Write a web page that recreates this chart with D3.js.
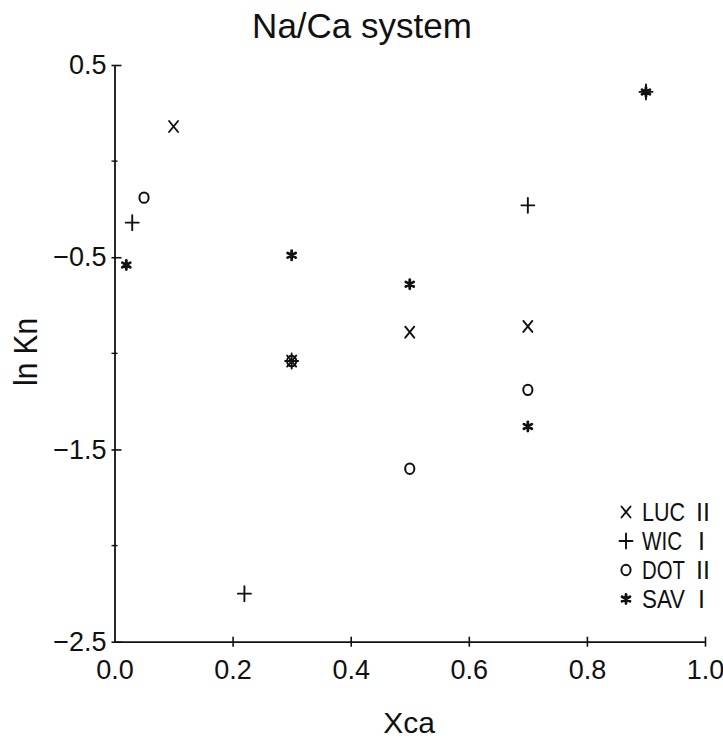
<!DOCTYPE html>
<html>
<head>
<meta charset="utf-8">
<script src="https://cdn.jsdelivr.net/npm/d3@7"></script>
<style>
  html, body { margin: 0; padding: 0; background: #fff; }
  svg { display: block; }
  text { font-family: "Liberation Sans", Arial, sans-serif; fill: #111; }
</style>
</head>
<body>
<svg id="chart" width="723" height="740"></svg>
<script>
// Axis ticks
const xTicks = [0.0, 0.2, 0.4, 0.6, 0.8, 1.0];
const xTickLabels = ["0.0", "0.2", "0.4", "0.6", "0.8", "1.0"];
const yMajorTicks = [0.5, -0.5, -1.5, -2.5];
const yTickLabels = ["0.5", "\u22120.5", "\u22121.5", "\u22122.5"];
const yMinorTicks = [0, -1, -2];

// Series: Xca vs ln Kn for each soil
const lucX = [0.1, 0.3, 0.5, 0.7];
const lucY = [0.18, -1.04, -0.89, -0.86];
const wicX = [0.03, 0.22, 0.3, 0.7, 0.9];
const wicY = [-0.32, -2.25, -1.04, -0.23, 0.36];
const dotX = [0.05, 0.3, 0.5, 0.7];
const dotY = [-0.19, -1.04, -1.6, -1.19];
const savX = [0.02, 0.3, 0.5, 0.7, 0.9];
const savY = [-0.54, -0.49, -0.64, -1.38, 0.36];

const seriesNames = ["LUC", "WIC", "DOT", "SAV"];
const seriesNumerals = ["II", "I", "II", "I"];
const seriesSymbols = ["x", "+", "o", "*"];

const series = [
  { name: seriesNames[0], roman: seriesNumerals[0], sym: seriesSymbols[0], xs: lucX, ys: lucY },
  { name: seriesNames[1], roman: seriesNumerals[1], sym: seriesSymbols[1], xs: wicX, ys: wicY },
  { name: seriesNames[2], roman: seriesNumerals[2], sym: seriesSymbols[2], xs: dotX, ys: dotY },
  { name: seriesNames[3], roman: seriesNumerals[3], sym: seriesSymbols[3], xs: savX, ys: savY }
];

const ink = "#111";
const svg = d3.select("#chart");

const x = d3.scaleLinear().domain([0, 1]).range([114.5, 705]);
const y = d3.scaleLinear().domain([-2.5, 0.5]).range([641.7, 65]);

// Marker glyphs drawn as small paths around (0,0)
function symbolPath(sym) {
  const p = d3.path();
  if (sym === "x") {
    p.moveTo(-4.5, -5.5); p.lineTo(4.5, 5.5);
    p.moveTo(4.5, -5.5); p.lineTo(-4.5, 5.5);
  } else if (sym === "+") {
    p.moveTo(-6.5, 0); p.lineTo(6.5, 0);
    p.moveTo(0, -7.5); p.lineTo(0, 7.5);
  } else if (sym === "*") {
    for (let k = 0; k < 3; k++) {
      const a = Math.PI / 2 + k * Math.PI / 3;
      const dx = 4.6 * Math.cos(a), dy = 4.6 * Math.sin(a);
      p.moveTo(-dx, -dy); p.lineTo(dx, dy);
    }
  }
  return p.toString();
}

function drawSymbol(g, sym) {
  if (sym === "o") {
    g.append("ellipse").attr("rx", 4.6).attr("ry", 5.2)
      .attr("fill", "none").attr("stroke", ink).attr("stroke-width", 2);
  } else {
    g.append("path").attr("d", symbolPath(sym))
      .attr("fill", "none").attr("stroke", ink)
      .attr("stroke-width", sym === "*" ? 2.8 : 1.9)
      .attr("stroke-linecap", "round");
  }
}

// Title
svg.append("text")
  .attr("x", 362).attr("y", 38)
  .attr("text-anchor", "middle")
  .attr("font-size", 35)
  .text("Na/Ca system");

// X axis
const xAxis = d3.axisBottom(x)
  .tickValues(xTicks)
  .tickFormat((d, i) => xTickLabels[i])
  .tickSizeInner(5).tickSizeOuter(0).tickPadding(13);
const gx = svg.append("g").attr("transform", `translate(0,${y(-2.5)})`).call(xAxis);
gx.select(".domain").attr("stroke", ink).attr("stroke-width", 1.8);
gx.selectAll(".tick line").attr("stroke", ink).attr("stroke-width", 1.6).attr("y1", -5).attr("y2", 5);
gx.selectAll(".tick text").attr("font-size", 27).attr("font-family", "Liberation Sans, Arial, sans-serif").attr("fill", ink);
gx.selectAll(".tick").filter(d => d === 0).select("line").remove();

// Y axis
const yAxis = d3.axisLeft(y)
  .tickValues(yMajorTicks)
  .tickFormat((d, i) => yTickLabels[i])
  .tickSizeInner(3).tickSizeOuter(0).tickPadding(5);
const gy = svg.append("g").attr("transform", `translate(${x(0)},0)`).call(yAxis);
gy.select(".domain").attr("stroke", ink).attr("stroke-width", 1.8);
gy.selectAll(".tick line").attr("stroke", ink).attr("stroke-width", 1.6).attr("x1", -3).attr("x2", 7);
gy.selectAll(".tick text").attr("font-size", 27).attr("font-family", "Liberation Sans, Arial, sans-serif").attr("fill", ink);

// Minor y ticks
svg.append("g").selectAll("line")
  .data(yMinorTicks).join("line")
  .attr("x1", x(0) - 3).attr("x2", x(0) + 3)
  .attr("y1", d => y(d)).attr("y2", d => y(d))
  .attr("stroke", ink).attr("stroke-width", 1.4);

// Axis titles
svg.append("text")
  .attr("x", 409).attr("y", 733)
  .attr("text-anchor", "middle")
  .attr("font-size", 30)
  .text("Xca");

svg.append("text")
  .attr("transform", "translate(37,352) rotate(-90)")
  .attr("text-anchor", "middle")
  .attr("font-size", 34)
  .attr("textLength", 68).attr("lengthAdjust", "spacingAndGlyphs")
  .text("ln Kn");

// Data points
series.forEach(s => {
  const pts = s.xs.map((v, i) => [v, s.ys[i]]);
  svg.append("g").selectAll("g")
    .data(pts).join("g")
    .attr("transform", d => `translate(${x(d[0])},${y(d[1])})`)
    .each(function () { drawSymbol(d3.select(this), s.sym); });
});

// Legend
const legend = svg.append("g");
const rowY = [512, 541, 570, 599];
series.forEach((s, i) => {
  const g = legend.append("g").attr("transform", `translate(626,${rowY[i]})`);
  drawSymbol(g, s.sym);
  g.append("text").attr("x", 16).attr("y", 9)
    .attr("font-size", 25)
    .attr("textLength", s.name === "WIC" ? 40 : 43).attr("lengthAdjust", "spacingAndGlyphs")
    .text(s.name);
  g.append("text").attr("x", s.roman === "II" ? 70 : 72).attr("y", 9)
    .attr("font-size", 25)
    .text(s.roman);
});
</script>
</body>
</html>
